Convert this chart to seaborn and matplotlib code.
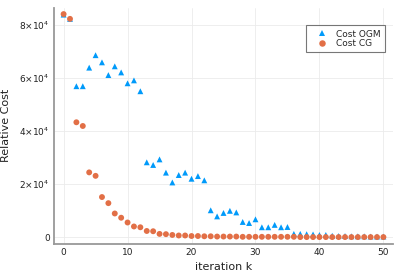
import matplotlib
matplotlib.use("Agg")
import matplotlib.pyplot as plt
import seaborn as sns
import pandas as pd

iterations = list(range(51))

cost_ogm = [8.39e4, 8.23e4, 5.69e4, 5.69e4, 6.39e4, 6.86e4, 6.59e4, 6.11e4, 6.44e4, 6.21e4,
            5.80e4, 5.91e4, 5.50e4, 2.82e4, 2.72e4, 2.93e4, 2.43e4, 2.06e4, 2.34e4, 2.43e4,
            2.20e4, 2.30e4, 2.14e4, 1.01e4, 0.78e4, 0.91e4, 0.99e4, 0.93e4, 0.57e4, 0.53e4,
            0.67e4, 0.37e4, 0.37e4, 0.46e4, 0.37e4, 0.38e4, 0.12e4, 0.12e4, 0.11e4, 0.10e4,
            0.08e4, 0.08e4, 0.05e4, 0.04e4, 0.04e4, 0.03e4, 0.03e4, 0.03e4, 0.02e4, 0.02e4,
            0.02e4]

cost_cg = [8.41e4, 8.23e4, 4.33e4, 4.19e4, 2.44e4, 2.31e4, 1.51e4, 1.28e4, 0.89e4, 0.73e4,
           0.55e4, 0.40e4, 0.37e4, 0.23e4, 0.22e4, 0.12e4, 0.11e4, 0.08e4, 0.06e4, 0.06e4,
           0.04e4, 0.04e4, 0.03e4, 0.03e4, 0.02e4, 0.02e4, 0.02e4, 0.02e4, 0.01e4, 0.01e4,
           0.01e4, 0.01e4, 0.01e4, 0.01e4, 0.01e4, 0.01e4, 0.01e4, 0.0, 0.0, 0.0,
           0.0, 0.0, 0.0, 0.0, 0.0, 0.0, 0.0, 0.0, 0.0, 0.0,
           0.0]

series_names = ["Cost OGM", "Cost CG"]
y_ticks = [0, 2e4, 4e4, 6e4, 8e4]
y_tick_labels = ["0", r"$2{\times}10^4$", r"$4{\times}10^4$", r"$6{\times}10^4$", r"$8{\times}10^4$"]
x_ticks = [0, 10, 20, 30, 40, 50]

df = pd.DataFrame({
    "iteration k": iterations * 2,
    "Relative Cost": cost_ogm + cost_cg,
    "series": [series_names[0]] * len(cost_ogm) + [series_names[1]] * len(cost_cg),
})

sns.set_style("white")
plt.rcParams["font.family"] = ["DejaVu Sans"]
plt.rcParams["mathtext.fontset"] = "dejavusans"

fig = plt.figure(figsize=(4.07, 2.71), dpi=100)
ax = fig.add_axes([0.1327, 0.1007, 0.8329, 0.8698])

sns.scatterplot(data=df, x="iteration k", y="Relative Cost", hue="series", style="series",
                palette={"Cost OGM": "#009AFA", "Cost CG": "#E26F46"},
                markers={"Cost OGM": "^", "Cost CG": "o"},
                s=18, linewidth=0, ax=ax, zorder=3)

ax.set_xlim(-1.5, 51.5)
ax.set_ylim(-2500, 86400)
ax.set_xticks(x_ticks)
ax.set_yticks(y_ticks)
ax.set_yticklabels(y_tick_labels)
ax.tick_params(direction="in", length=3, width=0.8, color="#555555", labelsize=6.5,
               labelcolor="#222222", pad=3)
ax.grid(True, color="#ebebeb", linewidth=0.6)
for side in ["top", "right"]:
    ax.spines[side].set_visible(False)
for side in ["left", "bottom"]:
    ax.spines[side].set_color("#999999")
    ax.spines[side].set_linewidth(1.3)
ax.set_xlabel("iteration k", fontsize=8, color="#222222", labelpad=4)
ax.set_ylabel("Relative Cost", fontsize=8, color="#222222", labelpad=6)

leg = ax.legend(loc="upper right", bbox_to_anchor=(0.99, 0.945), fontsize=6.5,
                frameon=True, fancybox=False, borderpad=0.45, handletextpad=0.3,
                handlelength=2.6, labelspacing=0.05, markerscale=1.1)
leg.get_frame().set_edgecolor("#555555")
leg.get_frame().set_linewidth(0.8)

fig.savefig("out.png", dpi=100)
